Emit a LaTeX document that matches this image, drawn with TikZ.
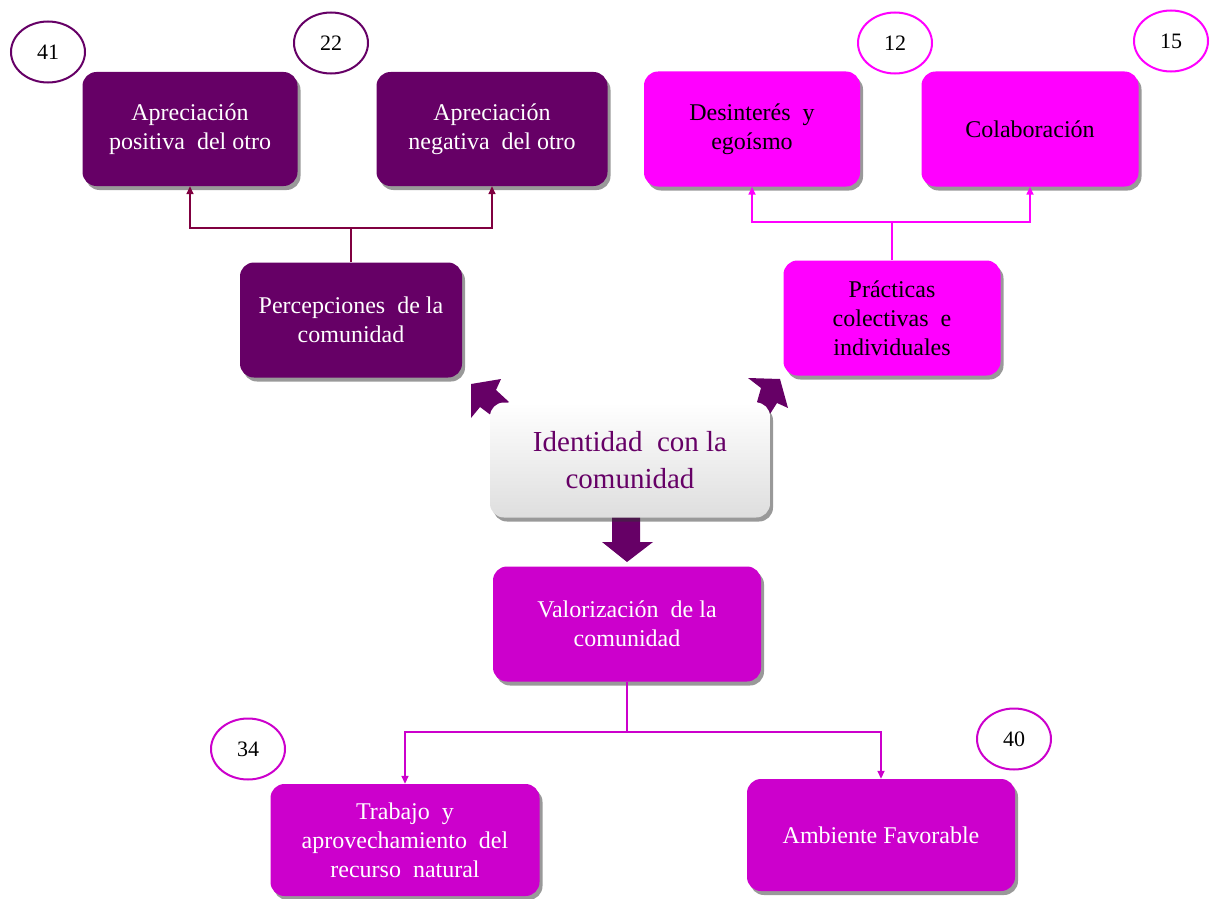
\documentclass[tikz,border=0pt]{standalone}
\usepackage{fontspec}
\setmainfont{Liberation Serif}
\usetikzlibrary{shadows,arrows.meta,shapes.geometric}
\definecolor{dpurp}{HTML}{660066}
\definecolor{mag}{HTML}{FF00FF}
\definecolor{vmag}{HTML}{CC00CC}
\definecolor{lnk}{HTML}{800040}
\tikzset{
  box/.style={rounded corners=14pt, inner sep=4pt, align=center,
    font=\fontsize{24}{29}\selectfont,
    drop shadow={shadow xshift=3pt,shadow yshift=-4pt,opacity=0.5,fill=black!80}},
  dbox/.style={box, fill=dpurp, text=white},
  mbox/.style={box, fill=mag, text=black},
  vbox/.style={box, fill=vmag, text=white},
  num/.style={ellipse, fill=white, line width=2pt, minimum width=74pt,
    minimum height=61pt, inner sep=0pt, font=\fontsize{22}{24}\selectfont},
  conn/.style={line width=1.6pt},
  tip/.style={-{Triangle[width=7pt,length=8pt]}},
  blockarrow/.style={fill=dpurp}
}
\begin{document}
\begin{tikzpicture}[x=1pt,y=-1pt]
\useasboundingbox (0,0) rectangle (1213,899);
% number circles
\node[num, draw=dpurp] (c41) at (48,52) {41};
\node[num, draw=dpurp] (c22) at (331,43) {22};
\node[num, draw=mag] (c12) at (895,43) {12};
\node[num, draw=mag] (c15) at (1171,41) {15};
\node[num, draw=vmag] (c34) at (248,749) {34};
\node[num, draw=vmag] (c40) at (1014,739) {40};
% top row boxes
\node[dbox, minimum width=215pt, minimum height=114pt] (ap) at (190,129) {Apreciación\\positiva\ \ del otro};
\node[dbox, minimum width=231pt, minimum height=114pt] (an) at (492,129) {Apreciación\\negativa\ \ del otro};
\node[mbox, minimum width=216pt, minimum height=115pt] (de) at (752,129) {Desinterés\ \ y\\egoísmo};
\node[mbox, minimum width=217pt, minimum height=115pt] (co) at (1030,129) {Colaboración};
% middle boxes
\node[dbox, minimum width=222pt, minimum height=115pt] (pe) at (351,320) {Percepciones\ \ de la\\comunidad};
\node[mbox, minimum width=217pt, minimum height=115pt] (pr) at (892,318) {Prácticas\\colectivas\ \ e\\individuales};
% block arrows (behind the central box)
\fill[blockarrow] (471,384) -- (501,379) -- (496,390) -- (509,402) -- (492,416) -- (480,407) -- (471,418) -- cycle;
\fill[blockarrow] (748,378) -- (780,379) -- (788,408) -- (777,403) -- (770,414) -- (757,402) -- (761,388) -- cycle;
\fill[blockarrow] (612,515) -- (640,515) -- (640,542) -- (653,542) -- (627,562) -- (602,542) -- (612,542) -- cycle;
% central box
\node[box, top color=white, bottom color=black!13, text=dpurp,
  font=\fontsize{29}{37}\selectfont, minimum width=280pt, minimum height=115pt] (id) at (630,460) {Identidad\ \ con la\\comunidad};
% lower boxes
\node[vbox, minimum width=268pt, minimum height=115pt] (va) at (627,624) {Valorización\ \ de la\\comunidad};
\node[vbox, minimum width=269pt, minimum height=112pt] (tr) at (405,840) {Trabajo\ \ y\\aprovechamiento\ \ del\\recurso\ \ natural};
\node[vbox, minimum width=268pt, minimum height=112pt] (am) at (881,835) {Ambiente Favorable};
% connectors
\coordinate (pj) at (351,228);
\draw[conn, draw=lnk] (pe.north) -- (pj);
\draw[conn, draw=lnk, tip] (pj) -| (ap.south);
\draw[conn, draw=lnk, tip] (pj) -| (an.south);
\coordinate (rj) at (892,222);
\draw[conn, draw=mag] (pr.north) -- (rj);
\draw[conn, draw=mag, tip] (rj) -| (de.south);
\draw[conn, draw=mag, tip] (rj) -| (co.south);
\coordinate (bj) at (627,732);
\draw[conn, draw=vmag] (va.south) -- (bj);
\draw[conn, draw=vmag, tip] (bj) -| (tr.north);
\draw[conn, draw=vmag, tip] (bj) -| (am.north);
\end{tikzpicture}
\end{document}
